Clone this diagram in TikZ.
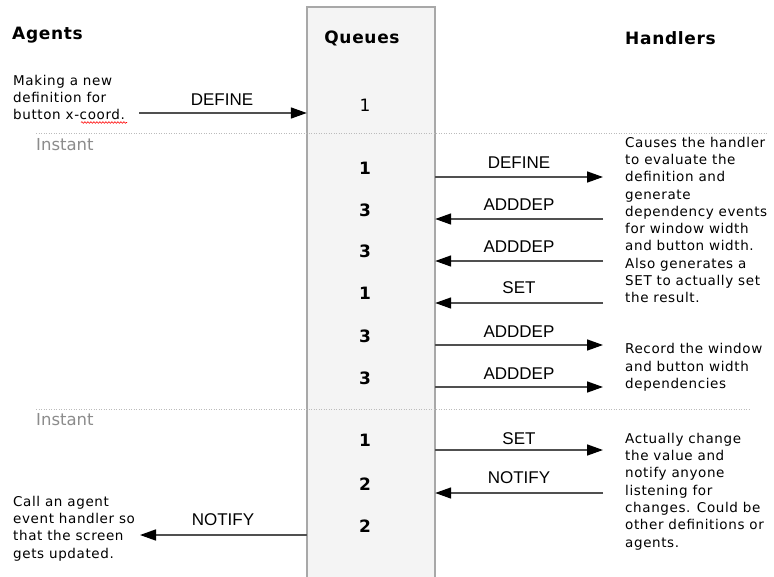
\documentclass[tikz,border=0pt]{standalone}
\usepackage{fontspec}
\setmainfont{DejaVu Sans}
\newfontfamily\lblfont{Liberation Sans}
\usetikzlibrary{arrows.meta,decorations.pathmorphing}
\definecolor{linegray}{HTML}{505050}
\definecolor{boxfill}{HTML}{F4F4F4}
\definecolor{boxline}{HTML}{A8A8A8}
\definecolor{dotgray}{HTML}{BBBBBB}
\definecolor{insttext}{HTML}{8C8C8C}
\begin{document}
\begin{tikzpicture}[x=1pt,y=-1pt,
  hdr/.style={font=\fontsize{17}{19}\selectfont\bfseries\addfontfeature{LetterSpace=4}, inner sep=0},
  desc/.style={font=\fontsize{13.5}{17.3}\selectfont\addfontfeature{LetterSpace=4.5}, align=left, anchor=west, inner sep=0},
  num/.style={font=\fontsize{17}{18}\selectfont\bfseries, inner sep=0},
  numreg/.style={font=\fontsize{17}{18}\selectfont, inner sep=0},
  lbl/.style={font=\lblfont\fontsize{17}{18}\selectfont, inner sep=0},
  arr/.style={draw=linegray, line width=1.6pt, -{Triangle[length=16pt,width=11pt,black]}},
  sepline/.style={draw=dotgray, line width=1pt, dash pattern=on 1pt off 1.5pt},
  inst/.style={font=\fontsize{16.5}{18}\selectfont, text=insttext, anchor=west, inner sep=0}
]
\clip (0,0) rectangle (774,576);
\fill[white] (0,0) rectangle (774,576);

% queue column
\node[fill=boxfill, draw=none, minimum width=128pt, minimum height=580pt, inner sep=0, anchor=north] (Q) at (371,7) {};
\draw[boxline, line width=1.5pt] (Q.south west) -- (Q.north west) -- (Q.north east) -- (Q.south east);

% headers
\node[hdr, anchor=west] (hA) at (12,35) {Agents};
\node[hdr] (hQ) at (362,38) {Queues};
\node[hdr, anchor=west] (hH) at (625,38) {Handlers};

% separators
\draw[sepline] (36,133.5) -- (767,133.5);
\draw[sepline] (36,409) -- (750,409);
\node[inst] (i1) at (36,145) {Instant};
\node[inst] (i2) at (36,420) {Instant};

% queue numbers
\node[numreg] (n1) at (365,105) {1};
\node[num] (n2) at (365,168) {1};
\node[num] (n3) at (365,210) {3};
\node[num] (n4) at (365,251) {3};
\node[num] (n5) at (365,293) {1};
\node[num] (n6) at (365,336) {3};
\node[num] (n7) at (365,378) {3};
\node[num] (n8) at (365,440) {1};
\node[num] (n9) at (365,484) {2};
\node[num] (n10) at (365,526) {2};

% descriptions
\node[desc] (dMake) at (13,97.5) {Making a new\\definition for\\button x-coord.};
\draw[red, line width=0.6pt, decorate, decoration={snake, amplitude=0.8pt, segment length=3pt}] (81,122.5) -- (127,122.5);
\node[desc] (dCause) at (625,220) {Causes the handler\\to evaluate the\\definition and\\generate\\dependency events\\for window width\\and button width.\\Also generates a\\SET to actually set\\the result.};
\node[desc] (dRec) at (625,367.5) {Record the window\\and button width\\dependencies};
\node[desc] (dAct) at (625,491.5) {Actually change\\the value and\\notify anyone\\listening for\\changes. Could be\\other definitions or\\agents.};
\node[desc] (dCall) at (13,528.5) {Call an agent\\event handler so\\that the screen\\gets updated.};

% arrow end points
\coordinate (a0) at (139,113);
\coordinate (r1) at (603,177);
\coordinate (r2) at (603,219);
\coordinate (r3) at (603,261);
\coordinate (r4) at (603,303);
\coordinate (r5) at (603,345);
\coordinate (r6) at (603,387);
\coordinate (r7) at (603,450);
\coordinate (r8) at (603,493);
\coordinate (a9) at (140,535);

% arrows
\draw[arr] (a0) -- (Q.west |- a0);
\draw[arr] (Q.east |- r1) -- (r1);
\draw[arr] (r2) -- (Q.east |- r2);
\draw[arr] (r3) -- (Q.east |- r3);
\draw[arr] (r4) -- (Q.east |- r4);
\draw[arr] (Q.east |- r5) -- (r5);
\draw[arr] (Q.east |- r6) -- (r6);
\draw[arr] (Q.east |- r7) -- (r7);
\draw[arr] (r8) -- (Q.east |- r8);
\draw[arr] (Q.west |- a9) -- (a9);

% arrow labels
\node[lbl] (l0) at (222,100) {DEFINE};
\node[lbl] (l1) at (519,163) {DEFINE};
\node[lbl] (l2) at (519,205) {ADDDEP};
\node[lbl] (l3) at (519,247) {ADDDEP};
\node[lbl] (l4) at (519,288) {SET};
\node[lbl] (l5) at (519,332) {ADDDEP};
\node[lbl] (l6) at (519,374) {ADDDEP};
\node[lbl] (l7) at (519,439) {SET};
\node[lbl] (l8) at (519,478) {NOTIFY};
\node[lbl] (l9) at (223,520) {NOTIFY};
\end{tikzpicture}
\end{document}
